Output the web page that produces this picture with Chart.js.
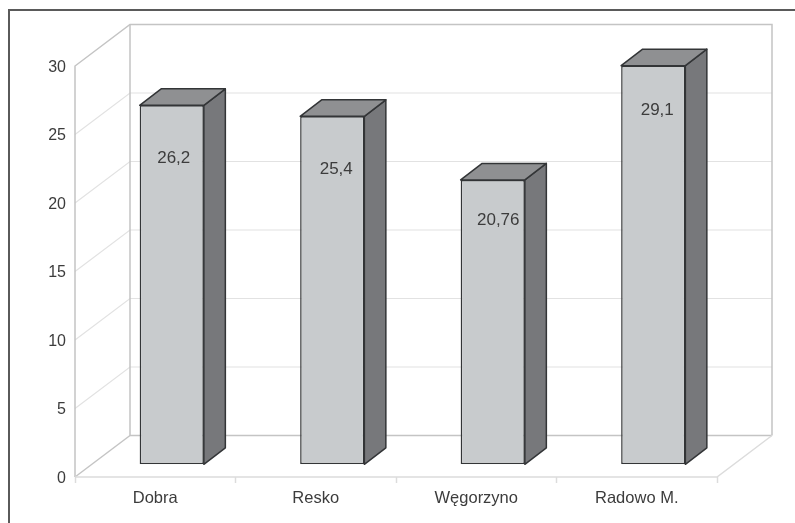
<!DOCTYPE html>
<html>
<head>
<meta charset="utf-8">
<style>
  html, body { margin: 0; padding: 0; background: #fff; }
  canvas { display: block; }
</style>
<script src="https://cdn.jsdelivr.net/npm/chart.js@4"></script>
</head>
<body>
<canvas id="chart" width="795" height="523"></canvas>
<script>
// Data
const categories = ['Dobra', 'Resko', 'Węgorzyno', 'Radowo M.'];
const values = [26.2, 25.4, 20.76, 29.1];
const valueLabels = ['26,2', '25,4', '20,76', '29,1'];
const yTicks = [0, 5, 10, 15, 20, 25, 30];

// Pseudo 3D look
const WALL_DX = 55, WALL_DY = -41.5;    // depth of the whole box
const BAR_SHIFT_X = 16.5, BAR_SHIFT_Y = -12.7;  // bars stand inside the box
const BAR_DX = 21.5, BAR_DY = -16.5;    // depth of a bar
const labelDrop = [53, 53, 40, 45];     // label distance below the bar top
const labelNudge = [2, 4, 5.5, 4];      // labels were placed by hand in the original

const textColor = '#3c3c3c';
const font = { family: '"Liberation Sans", Arial, sans-serif', size: 16 };

function line(ctx, color, width, pts) {
    ctx.strokeStyle = color;
    ctx.lineWidth = width;
    ctx.beginPath();
    pts.forEach((p, i) => i ? ctx.lineTo(p[0], p[1]) : ctx.moveTo(p[0], p[1]));
    ctx.stroke();
}

function face(ctx, color, pts) {
    ctx.fillStyle = color;
    ctx.strokeStyle = '#333537';
    ctx.lineWidth = 1.5;
    ctx.lineJoin = 'round';
    ctx.beginPath();
    pts.forEach((p, i) => i ? ctx.lineTo(p[0], p[1]) : ctx.moveTo(p[0], p[1]));
    ctx.closePath();
    ctx.fill();
    ctx.stroke();
}

const box3d = {
    id: 'box3d',
    beforeDatasetsDraw(chart) {
        const ctx = chart.ctx;
        const { left, right, top, bottom } = chart.chartArea;
        const y = chart.scales.y;
        ctx.save();
        // frame of the picture: only left and top
        line(ctx, '#5a5a5a', 2, [[9, 523], [9, 10], [795, 10]]);
        // horizontal grid on side and back wall
        yTicks.slice(1, -1).forEach(v => {
            const py = y.getPixelForValue(v);
            line(ctx, '#e2e2e2', 1.2, [[left, py], [left + WALL_DX, py + WALL_DY], [right + WALL_DX, py + WALL_DY]]);
        });
        // box edges
        const edge = '#c4c4c4';
        line(ctx, edge, 1.5, [[left, bottom], [left, top], [left + WALL_DX, top + WALL_DY], [right + WALL_DX, top + WALL_DY], [right + WALL_DX, bottom + WALL_DY]]);
        line(ctx, edge, 1.5, [[left + WALL_DX, top + WALL_DY], [left + WALL_DX, bottom + WALL_DY], [right + WALL_DX, bottom + WALL_DY]]);
        line(ctx, edge, 1.5, [[left, bottom], [left + WALL_DX, bottom + WALL_DY]]);
        line(ctx, '#dcdcdc', 1.5, [[left, bottom], [right, bottom], [right + WALL_DX, bottom + WALL_DY]]);
        ctx.restore();
    },
    beforeDatasetDraw(chart) {
        chart.ctx.save();
        chart.ctx.translate(BAR_SHIFT_X, BAR_SHIFT_Y);
    },
    afterDatasetDraw(chart, args) {
        const ctx = chart.ctx;
        args.meta.data.forEach(bar => {
            const x0 = bar.x - bar.width / 2, x1 = bar.x + bar.width / 2;
            face(ctx, '#77787b', [[x1, bar.y], [x1 + BAR_DX, bar.y + BAR_DY], [x1 + BAR_DX, bar.base + BAR_DY], [x1, bar.base]]);
            face(ctx, '#8f9092', [[x0, bar.y], [x0 + BAR_DX, bar.y + BAR_DY], [x1 + BAR_DX, bar.y + BAR_DY], [x1, bar.y]]);
        });
        ctx.restore();
    },
    afterDatasetsDraw(chart) {
        const ctx = chart.ctx;
        ctx.save();
        ctx.fillStyle = textColor;
        ctx.font = '17px ' + font.family;
        ctx.textAlign = 'center';
        ctx.textBaseline = 'middle';
        chart.getDatasetMeta(0).data.forEach((bar, i) => {
            ctx.fillText(valueLabels[i], bar.x + BAR_SHIFT_X + labelNudge[i], bar.y + BAR_SHIFT_Y + labelDrop[i]);
        });
        ctx.restore();
    }
};

new Chart(document.getElementById('chart').getContext('2d'), {
    type: 'bar',
    data: {
        labels: categories,
        datasets: [{
            data: values,
            backgroundColor: '#c8cbcd',
            borderColor: '#333537',
            borderWidth: 1.5,
            borderSkipped: false,
            barPercentage: 1,
            categoryPercentage: 0.4
        }]
    },
    options: {
        responsive: false,
        animation: false,
        layout: { padding: { top: 66, right: 78, left: 0, bottom: 0 } },
        plugins: { legend: { display: false }, tooltip: { enabled: false } },
        scales: {
            x: {
                border: { display: false },
                grid: { drawOnChartArea: false, tickLength: 6, tickColor: '#dcdcdc', tickWidth: 1.5 },
                ticks: { color: textColor, font: { family: font.family, size: 16.5 }, padding: 6, maxRotation: 0 },
                afterFit: s => { s.height = 46; }
            },
            y: {
                min: 0,
                max: 30,
                border: { display: false },
                grid: { display: false },
                ticks: { stepSize: 5, color: textColor, font: font, padding: 1, labelOffset: 1.5 },
                afterFit: s => { s.width = 75; }
            }
        }
    },
    plugins: [box3d]
});
</script>
</body>
</html>
